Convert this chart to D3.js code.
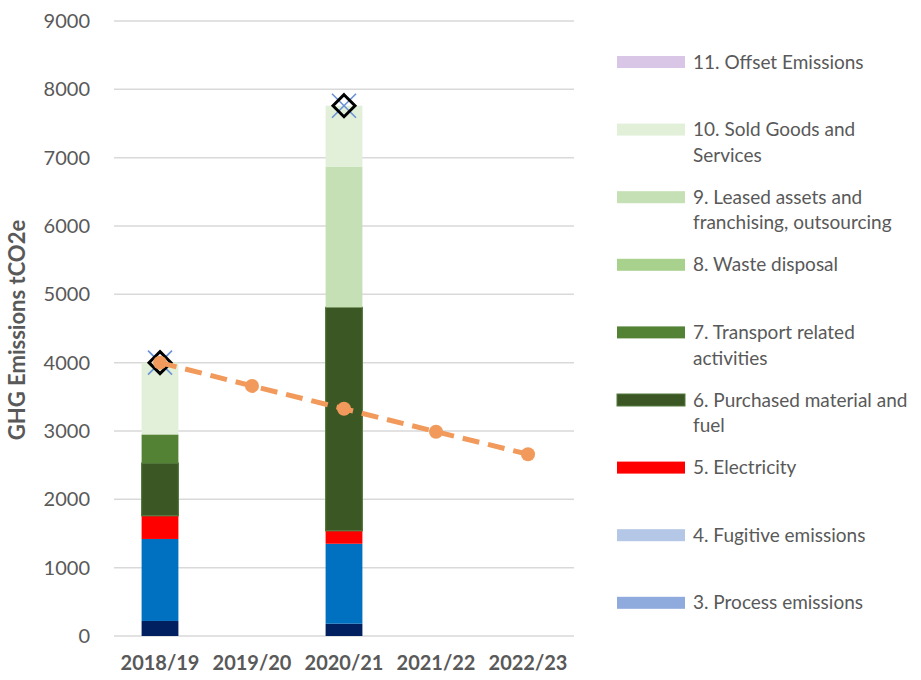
<!DOCTYPE html>
<html>
<head>
<meta charset="utf-8">
<script src="https://cdn.jsdelivr.net/npm/d3@7"></script>
<style>
  body { margin: 0; background: #fff; }
  svg text { font-family: Lato, "Open Sans", sans-serif; }
</style>
</head>
<body>
<svg id="chart" width="921" height="680"></svg>
<script>
"use strict";

// categories on the x axis
const years = ["2018/19", "2019/20", "2020/21", "2021/22", "2022/23"];

// stacked emission categories, bottom to top (1. and 2. are not in the legend)
const seriesKeys = ["s1", "s2", "s3", "s4", "s5", "s6", "s7", "s8", "s9", "s10", "s11"];
const seriesNames = ["1.", "2.", "3. Process emissions", "4. Fugitive emissions", "5. Electricity",
  "6. Purchased material and fuel", "7. Transport related activities", "8. Waste disposal",
  "9. Leased assets and franchising, outsourcing", "10. Sold Goods and Services", "11. Offset Emissions"];
const seriesColors = ["#002060", "#0070C0", "#8FAADC", "#B4C7E7", "#FF0000",
  "#3A5724", "#548235", "#A9D18E", "#C5E0B4", "#E2F0D9", "#D9C6E6"];

// values per year, tCO2e (empty years have no bar)
const s1  = [220, 0, 180, 0, 0];
const s2  = [1200, 0, 1170, 0, 0];
const s3  = [0, 0, 0, 0, 0];
const s4  = [0, 0, 0, 0, 0];
const s5  = [340, 0, 190, 0, 0];
const s6  = [770, 0, 3270, 0, 0];
const s7  = [420, 0, 0, 0, 0];
const s8  = [0, 0, 0, 0, 0];
const s9  = [0, 0, 2060, 0, 0];
const s10 = [1050, 0, 890, 0, 0];
const s11 = [0, 0, 0, 0, 0];

// totals (diamond + cross markers) and the reduction trajectory (dashed line)
const totalYears = ["2018/19", "2020/21"];
const totals = [4000, 7760];
const target = [4000, 3660, 3325, 2990, 2660];

// legend order, top to bottom
const legendKeys = ["s11", "s10", "s9", "s8", "s7", "s6", "s5", "s4", "s3"];
const legendLines = {
  s11: ["11. Offset Emissions"],
  s10: ["10. Sold Goods and", "Services"],
  s9: ["9. Leased assets and", "franchising, outsourcing"],
  s8: ["8. Waste disposal"],
  s7: ["7. Transport related", "activities"],
  s6: ["6. Purchased material and", "fuel"],
  s5: ["5. Electricity"],
  s4: ["4. Fugitive emissions"],
  s3: ["3. Process emissions"]
};
const yTicks = [0, 1000, 2000, 3000, 4000, 5000, 6000, 7000, 8000, 9000];

const valuesByKey = {s1, s2, s3, s4, s5, s6, s7, s8, s9, s10, s11};
const rows = years.map((yr, i) => {
  const r = {year: yr};
  seriesKeys.forEach(k => r[k] = valuesByKey[k][i]);
  return r;
});

const svg = d3.select("#chart"),
      margin = {top: 21, right: 347, bottom: 44, left: 114},
      width  = +svg.attr("width") - margin.left - margin.right,
      height = +svg.attr("height") - margin.top - margin.bottom,
      x = d3.scaleBand().domain(years).range([0, width]).paddingInner(0.6).paddingOuter(0.3),
      y = d3.scaleLinear().domain([0, 9000]).range([height, 0]),
      color = d3.scaleOrdinal().domain(seriesKeys).range(seriesColors),
      g = svg.append("g").attr("transform", `translate(${margin.left},${margin.top})`);

// gridlines
g.append("g")
  .selectAll("line")
  .data(yTicks)
  .enter().append("line")
  .attr("x1", 0).attr("x2", width)
  .attr("y1", d => y(d)).attr("y2", d => y(d))
  .style("stroke", "#d9d9d9")
  .style("stroke-width", 1.5);

// y axis labels
const yAxis = g.append("g")
  .call(d3.axisLeft(y).tickValues(yTicks).tickSize(0).tickPadding(24).tickFormat(d3.format("d")));
yAxis.select(".domain").remove();
yAxis.selectAll("text").style("font-size", "20px").style("fill", "#595959");

// x axis labels
const xAxis = g.append("g")
  .attr("transform", `translate(0,${height})`)
  .call(d3.axisBottom(x).tickSize(0).tickPadding(20));
xAxis.select(".domain").remove();
xAxis.selectAll("text").style("font-size", "20px").style("font-weight", "bold").style("fill", "#595959");

// stacked bars
const stacked = d3.stack().keys(seriesKeys)(rows);
g.selectAll(".layer")
  .data(stacked)
  .enter().append("g")
  .attr("class", "layer")
  .style("fill", d => color(d.key))
  .style("stroke", d => d.key === "s6" ? "#567a40" : "none")
  .style("stroke-width", 1.2)
  .selectAll("rect")
  .data(d => d.filter(p => p[1] - p[0] > 0))
  .enter().append("rect")
  .attr("x", d => x(d.data.year))
  .attr("y", d => y(d[1]))
  .attr("width", x.bandwidth())
  .attr("height", d => y(d[0]) - y(d[1]));

const cx = yr => x(yr) + x.bandwidth() / 2;

// total markers: blue cross under a black diamond
const totalMarks = g.selectAll(".total")
  .data(totals)
  .enter().append("g")
  .attr("class", "total")
  .attr("transform", (d, i) => `translate(${cx(totalYears[i])},${y(d)})`);

totalMarks.append("path")
  .attr("d", "M-12,-12L12,12M-12,12L12,-12")
  .style("stroke", "#6A93D8")
  .style("stroke-width", 1.6);

totalMarks.append("path")
  .attr("d", "M0,-11L11,0L0,11L-11,0Z")
  .style("fill", "none")
  .style("stroke", "#000")
  .style("stroke-width", 3);

// reduction trajectory, drawn on top
g.append("path")
  .datum(target)
  .attr("d", d3.line().x((d, i) => cx(years[i])).y(d => y(d)))
  .style("fill", "none")
  .style("stroke", "#F19A5B")
  .style("stroke-width", 5)
  .style("stroke-dasharray", "17,9");

g.selectAll(".dot")
  .data(target)
  .enter().append("circle")
  .attr("class", "dot")
  .attr("cx", (d, i) => cx(years[i]))
  .attr("cy", d => y(d))
  .attr("r", 7)
  .style("fill", "#F19A5B");

// y axis title
svg.append("text")
  .attr("transform", "rotate(-90)")
  .attr("x", -330)
  .attr("y", 25)
  .style("text-anchor", "middle")
  .style("font-size", "22px")
  .style("font-weight", "bold")
  .style("fill", "#595959")
  .text("GHG Emissions tCO2e");

// legend, handmade
const legend = svg.selectAll(".legend")
  .data(legendKeys)
  .enter().append("g")
  .attr("class", "legend")
  .attr("transform", (d, i) => `translate(617,${62 + i * 67.6})`);

legend.append("rect")
  .attr("x", 0).attr("y", -6)
  .attr("width", 68).attr("height", 12)
  .style("fill", d => color(d))
  .style("stroke", d => d === "s6" ? "#567a40" : "none");

legend.append("text")
  .attr("x", 76)
  .style("font-size", "19px")
  .style("fill", "#595959")
  .selectAll("tspan")
  .data(d => legendLines[d])
  .enter().append("tspan")
  .attr("x", 76)
  .attr("y", (d, i) => i * 25.6)
  .attr("dy", "0.35em")
  .text(d => d);
</script>
</body>
</html>
